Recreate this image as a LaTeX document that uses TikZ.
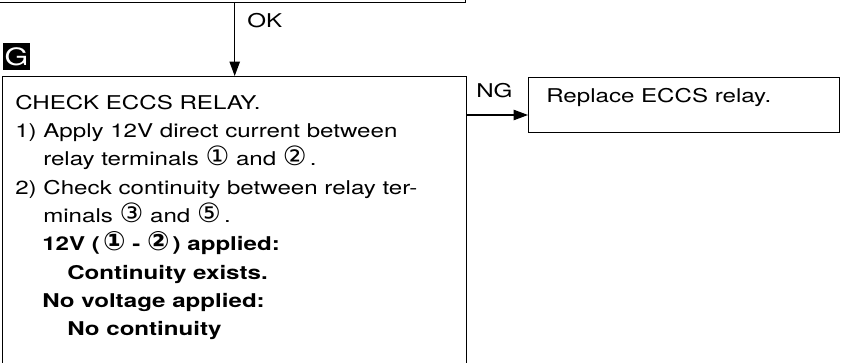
\documentclass[tikz,border=0pt]{standalone}
\usepackage{fontspec}
\setmainfont{TeX Gyre Heros}[FakeStretch=1.27]
\newfontfamily\circfont{DejaVu Sans}[Scale=1.4]
\usetikzlibrary{positioning,arrows.meta}
\newcommand{\term}[1]{{\circfont #1}}

\begin{document}
\begin{tikzpicture}[
    x=0.025cm, y=-0.025cm,
    >={Triangle[length=3.6mm, width=2.6mm]},
    box/.style={draw, line width=0.9pt, inner sep=0pt},
    arrow/.style={->, line width=0.9pt},
    lbl/.style={font=\fontsize{13.5}{20.1}\selectfont, inner sep=0pt},
    steptext/.style={lbl, align=left},
]
\useasboundingbox (0,0) rectangle (853,362);

% =============================================
% previous step (cut off at the top)
% =============================================
\node[box, anchor=south east, minimum width=12cm, minimum height=2cm] (prevstep) at (466,3) {};

\node[lbl, anchor=base west] (ok) at (247,27) {OK};

% =============================================
% step G: check ECCS relay
% =============================================
\node[fill=black, text=white, minimum size=0.675cm, inner sep=0pt,
      font=\fontsize{17}{17}\selectfont] (gmark) at (16.5,56.5) {G};

\node[box, anchor=north west, minimum width=11.6cm, minimum height=8.5cm] (relaybox) at (2,76) {};

\draw[arrow] (prevstep.south -| relaybox.north) -- (relaybox.north);

\node[steptext, anchor=north west] (relaytext) at (15,95)
    {CHECK ECCS RELAY.\\
     1) Apply 12V direct current between\\
     \hspace*{0.7cm}relay terminals \term{①} and \term{②}\,.\\
     2) Check continuity between relay ter-\\
     \hspace*{0.7cm}minals \term{③} and \term{⑤}\,.\\
     \hspace*{0.675cm}\textbf{12V (\,\term{①} - \term{②}\,) applied:}\\
     \hspace*{1.3cm}\textbf{Continuity exists.}\\
     \hspace*{0.675cm}\textbf{No voltage applied:}\\
     \hspace*{1.3cm}\textbf{No continuity}};

% =============================================
% NG branch
% =============================================
\node[box, anchor=north west, minimum width=7.775cm, minimum height=1.375cm] (replace) at (528,77) {};
\node[lbl, anchor=base west] (replacetext) at (546,102) {Replace ECCS relay.};

\coordinate (ngrow) at (0,115);
\draw[arrow] (relaybox.east |- ngrow) -- (replace.west |- ngrow);
\node[lbl, anchor=base west] (ng) at (476,97) {NG};

\end{tikzpicture}
\end{document}
